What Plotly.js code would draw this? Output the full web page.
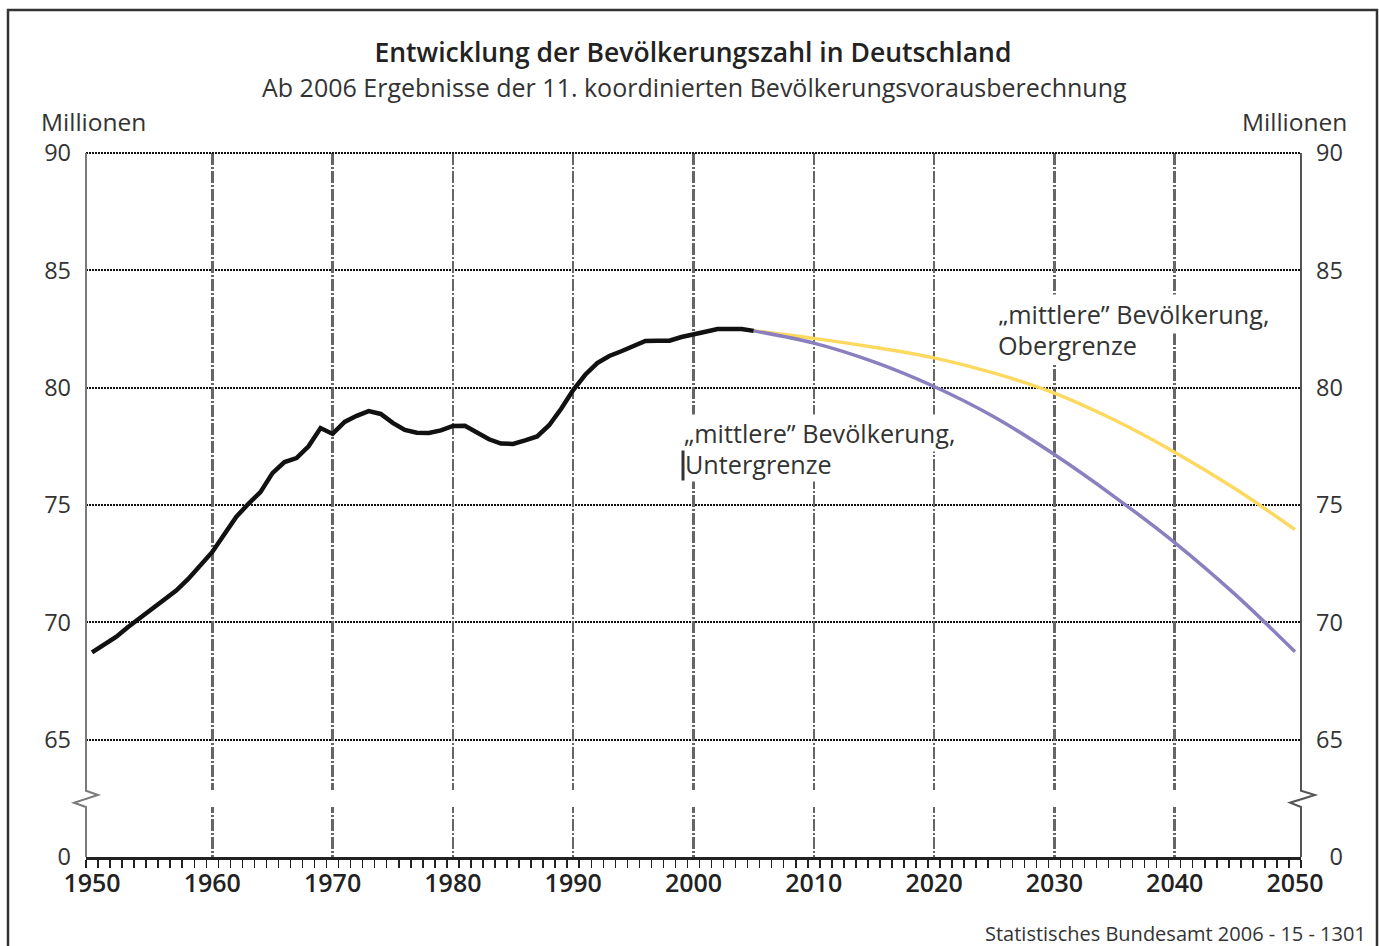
<!DOCTYPE html>
<html>
<head>
<meta charset="utf-8">
<script src="https://cdn.plot.ly/plotly-3.0.1.min.js"></script>
<style>html,body{margin:0;padding:0;background:#fff;}#chart{width:1379px;height:946px;}</style>
</head>
<body>
<div id="chart"></div>
<script>
// ---- data (millions) ----
const histYears = [1950,1951,1952,1953,1954,1955,1956,1957,1958,1959,1960,1961,1962,1963,1964,1965,1966,1967,1968,1969,
  1970,1971,1972,1973,1974,1975,1976,1977,1978,1979,1980,1981,1982,1983,1984,1985,1986,1987,1988,1989,
  1990,1991,1992,1993,1994,1995,1996,1997,1998,1999,2000,2001,2002,2003,2004,2005];
const histPop = [68.72,69.05,69.38,69.80,70.20,70.55,70.95,71.35,71.85,72.45,73.00,73.75,74.50,75.05,75.55,76.36,76.83,77.00,77.50,78.28,
  78.03,78.54,78.80,79.00,78.88,78.50,78.20,78.08,78.07,78.18,78.37,78.38,78.10,77.80,77.62,77.60,77.75,77.92,78.40,79.10,
  79.90,80.55,81.05,81.35,81.55,81.78,81.99,82.00,82.00,82.16,82.25,82.38,82.50,82.52,82.50,82.42];
const projYears = [2005,2010,2015,2020,2025,2030,2035,2040,2045,2050];
const lowerPop = [82.42,81.90,81.10,80.05,78.75,77.15,75.35,73.40,71.20,68.75];
const upperPop = [82.42,82.10,81.72,81.27,80.62,79.77,78.62,77.25,75.70,73.95];
const xLabelYears = [1950,1960,1970,1980,1990,2000,2010,2020,2030,2040,2050];
const gridYears = [1960,1970,1980,1990,2000,2010,2020,2030,2040];
const yTickVals = [60,65,70,75,80,85,90];
const yTickText = ['0','65','70','75','80','85','90'];
const yTickTextRight = ['\u20070','65','70','75','80','85','90'];

const titleText = 'Entwicklung der Bevölkerungszahl in Deutschland';
const subtitleText = 'Ab 2006 Ergebnisse der 11. koordinierten Bevölkerungsvorausberechnung';
const labelUpper = ['„mittlere” Bevölkerung,', 'Obergrenze'];
const labelLower = ['„mittlere” Bevölkerung,', 'Untergrenze'];
const unitText = 'Millionen';
const sourceText = 'Statistisches Bundesamt 2006 - 15 - 1301';

const FONT = 'Open Sans, Lato, DejaVu Sans, sans-serif';

const traces = [
  {x: projYears, y: upperPop, type: 'scatter', mode: 'lines', line: {color: '#fdd960', width: 3.5, shape: 'spline', smoothing: 1}, hoverinfo: 'skip', showlegend: false},
  {x: projYears, y: lowerPop, type: 'scatter', mode: 'lines', line: {color: '#8a7fbf', width: 3.5, shape: 'spline', smoothing: 1}, hoverinfo: 'skip', showlegend: false},
  {x: histYears, y: histPop, type: 'scatter', mode: 'lines', line: {color: '#111', width: 4.5}, hoverinfo: 'skip', showlegend: false},
  {x: [histYears[0]], y: [histPop[0]], xaxis: 'x2', yaxis: 'y2', type: 'scatter', mode: 'markers', opacity: 0, hoverinfo: 'skip', showlegend: false}
];

function pxX(px){ return (px - 86) / 1215; }
function pyY(py){ return (857 - py) / 704; }

const layout = {
  width: 1379, height: 946,
  margin: {l: 86, r: 78, t: 153, b: 89},
  paper_bgcolor: '#fff', plot_bgcolor: 'rgba(0,0,0,0)',
  showlegend: false,
  font: {family: FONT, color: '#333'},
  title: {text: titleText, font: {family: FONT, size: 26.5, color: '#222', weight: 600},
          x: 0.5025, xanchor: 'center', xref: 'container', y: 1 - 53/946, yanchor: 'middle', yref: 'container'},
  xaxis: {
    range: [1949.5, 2050.5], tickmode: 'array', tickvals: xLabelYears,
    ticks: '', showgrid: false, zeroline: false,
    showline: true, linecolor: '#222', linewidth: 2.5,
    tickfont: {family: FONT, size: 25, color: '#222', weight: 600},
    ticklabelstandoff: 2,
    minor: {tickmode: 'linear', tick0: 1949.5, dtick: 1, ticks: 'outside', ticklen: 8, tickwidth: 1.5, tickcolor: '#222', showgrid: false}
  },
  xaxis2: {
    overlaying: 'x', matches: 'x', anchor: 'y',
    tickmode: 'array', tickvals: gridYears, showticklabels: false, ticks: '',
    showgrid: true, gridcolor: '#666', gridwidth: 2.5, griddash: '12px,2px,2px,2px',
    zeroline: false, showline: false
  },
  yaxis: {
    range: [60, 90], tickmode: 'array', tickvals: yTickVals, ticktext: yTickText,
    ticks: '', showline: false, zeroline: false,
    showgrid: true, gridcolor: '#111', gridwidth: 2, griddash: '2px,1px',
    tickfont: {family: FONT, size: 23.5, color: '#333'},
    ticklabelstandoff: 14
  },
  yaxis2: {
    overlaying: 'y', matches: 'y', side: 'right', anchor: 'x',
    tickmode: 'array', tickvals: yTickVals, ticktext: yTickTextRight,
    ticks: '', showline: false, zeroline: false, showgrid: false,
    tickfont: {family: FONT, size: 23.5, color: '#333'},
    ticklabelstandoff: 14
  },
  shapes: [
    // outer frame
    {type: 'rect', xref: 'paper', yref: 'paper', x0: pxX(8), x1: pxX(1377), y0: pyY(990), y1: pyY(10),
     line: {color: '#333', width: 2.5}, fillcolor: 'rgba(0,0,0,0)', layer: 'above'},
    // top dotted grid line at 90
    {type: 'line', xref: 'paper', yref: 'paper', x0: 0, x1: 1, y0: 1, y1: 1,
     line: {color: '#111', width: 2, dash: '2px,1px'}, layer: 'above'},
    // break gap in the grid
    {type: 'rect', xref: 'paper', yref: 'paper', x0: 0.002, x1: 0.998, y0: pyY(807), y1: pyY(790),
     line: {width: 0}, fillcolor: '#fff', layer: 'above'},
    // left axis with break
    {type: 'path', xref: 'paper', yref: 'paper', layer: 'above', line: {color: '#7a7a7a', width: 2},
     path: 'M 0,1 L 0,' + pyY(790.7) + ' L ' + pxX(98) + ',' + pyY(795) + ' L ' + pxX(74) + ',' + pyY(802.7) + ' L 0,' + pyY(807) + ' L 0,0'},
    // right axis with break
    {type: 'path', xref: 'paper', yref: 'paper', layer: 'above', line: {color: '#555', width: 2},
     path: 'M 1,1 L 1,' + pyY(790.7) + ' L ' + pxX(1315) + ',' + pyY(795) + ' L ' + pxX(1290) + ',' + pyY(802.7) + ' L 1,' + pyY(807) + ' L 1,0'}
  ],
  annotations: [
    {text: subtitleText, xref: 'paper', yref: 'paper', x: pxX(694), y: pyY(87), xanchor: 'center', yanchor: 'middle',
     showarrow: false, font: {family: FONT, size: 25, color: '#333'}},
    {text: unitText, xref: 'paper', yref: 'paper', x: pxX(39), y: pyY(121), xanchor: 'left', yanchor: 'middle',
     showarrow: false, font: {family: FONT, size: 24.5, color: '#333'}},
    {text: unitText, xref: 'paper', yref: 'paper', x: pxX(1349), y: pyY(121), xanchor: 'right', yanchor: 'middle',
     showarrow: false, font: {family: FONT, size: 24.5, color: '#333'}},
    {text: labelUpper[0], xref: 'paper', yref: 'paper', x: pxX(995), y: pyY(314), xanchor: 'left', yanchor: 'middle',
     showarrow: false, bgcolor: '#fff', borderpad: 2, font: {family: FONT, size: 25.2, color: '#333'}},
    {text: labelUpper[1], xref: 'paper', yref: 'paper', x: pxX(995), y: pyY(345), xanchor: 'left', yanchor: 'middle',
     showarrow: false, bgcolor: '#fff', borderpad: 2, font: {family: FONT, size: 25.2, color: '#333'}},
    {text: labelLower[0], xref: 'paper', yref: 'paper', x: pxX(682), y: pyY(433), xanchor: 'left', yanchor: 'middle',
     showarrow: false, bgcolor: '#fff', borderpad: 1, font: {family: FONT, size: 25.2, color: '#333'}},
    {text: labelLower[1], xref: 'paper', yref: 'paper', x: pxX(684), y: pyY(464), xanchor: 'left', yanchor: 'middle',
     showarrow: false, bgcolor: '#fff', borderpad: 0, font: {family: FONT, size: 25.2, color: '#333'}},
    {text: sourceText, xref: 'paper', yref: 'paper', x: pxX(1368), y: pyY(933), xanchor: 'right', yanchor: 'middle',
     showarrow: false, font: {family: FONT, size: 20, color: '#333'}}
  ]
};

// text cursor mark before "Untergrenze" (drawn after annotations so it stays visible)
layout.annotations.push({text: '', xref: 'paper', yref: 'paper', x: pxX(682.5), y: pyY(465), showarrow: false,
  width: 1.5, height: 29, bgcolor: '#333', borderpad: 0, xanchor: 'center', yanchor: 'middle'});

Plotly.newPlot('chart', traces, layout, {displayModeBar: false, staticPlot: true});
</script>
</body>
</html>
